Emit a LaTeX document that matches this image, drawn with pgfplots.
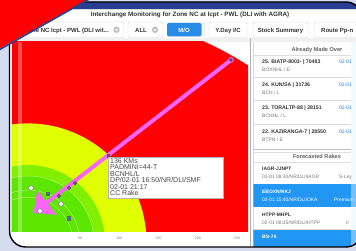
\documentclass[border=0pt]{standalone}
\usepackage{fontspec}
\setmainfont{Liberation Sans}
\usepackage{pgfplots}
\pgfplotsset{compat=1.18}
\usetikzlibrary{arrows.meta}
\definecolor{bgc}{RGB}{212,220,238}
\definecolor{navy}{RGB}{40,62,145}
\definecolor{zred}{RGB}{255,0,0}
\definecolor{zyel}{RGB}{224,255,0}
\definecolor{zgrn}{RGB}{92,230,0}
\definecolor{zgrn2}{RGB}{128,240,0}
\definecolor{arrowc}{RGB}{250,100,250}
\definecolor{mblue}{RGB}{33,150,243}
\definecolor{btnblue}{RGB}{40,140,230}
\definecolor{txt}{RGB}{51,51,51}
\definecolor{subc}{RGB}{120,120,120}
\definecolor{linkblue}{RGB}{40,120,220}
\definecolor{sqblue}{RGB}{25,125,195}
\newcommand\fs[1]{\fontsize{#1}{#1}\selectfont}
\newcommand\tl[3][]{\node[anchor=base west,inner sep=0pt,#1] at (#2) {#3};}
\newcommand\tc[3][]{\node[anchor=base,inner sep=0pt,#1] at (#2) {#3};}
\begin{document}
\begin{tikzpicture}
\useasboundingbox (0,0) rectangle (356pt,251pt);
\clip (0,0) rectangle (356pt,251pt);
\begin{scope}[x=1pt,y=-1pt,shift={(0pt,251pt)}]
\fill[bgc] (-5,-5) rectangle (362,256);
\begin{scope}
\clip[rounded corners=16pt] (9.5,2) rectangle (362,247);
\fill[white] (0,0) rectangle (362,251);
\fill[navy] (0,0) rectangle (362,9.5);
\fill[gray!30] (0,9.5) rectangle (362,10.3);
% title
\tc[font={\fs{6.3}\bfseries},text=txt]{190,16.3}{Interchange Monitoring for Zone NC at Icpt - PWL (DLI with AGRA)}
% toolbar
\draw[gray!35,fill=white,rounded corners=2pt] (15,22) rectangle (124,37.5);
\node[anchor=base east,inner sep=0pt,font={\fs{6}\bfseries},text=txt] at (109,32.1) {Zone NC Icpt - PWL (DLI wit...};
\fill[gray!50] (116.5,29.8) circle (3.2pt);
\draw[white,line width=0.6pt] (114.9,29.0)--(116.5,30.6)--(118.1,29.0);
\draw[gray!35,fill=white,rounded corners=2pt] (128,22) rectangle (163,37.5);
\tc[font={\fs{6}\bfseries},text=txt]{141,32.1}{ALL}
\fill[gray!50] (155,29.8) circle (3.2pt);
\draw[white,line width=0.6pt] (153.4,29.0)--(155,30.6)--(156.6,29.0);
\draw[gray!40,fill=white,rounded corners=1.5pt] (167,23) rectangle (204.5,36.5);
\fill[btnblue,rounded corners=1.5pt] (167,23) rectangle (201.5,36.5);
\tc[font={\fs{6}\bfseries},text=white]{184,32.1}{M/O}
\draw[gray!35,fill=white,rounded corners=2pt] (209,22) rectangle (247,37.5);
\tc[font={\fs{6}\bfseries},text=txt]{228,32.1}{Y.Day I/C}
\draw[gray!35,fill=white,rounded corners=2pt] (253,22) rectangle (308,37.5);
\tc[font={\fs{6}\bfseries},text=txt]{280.5,32.1}{Stock Summary}
\draw[gray!35,fill=white,rounded corners=2pt] (314,22) rectangle (372,37.5);
\tl[font={\fs{6}\bfseries},text=txt]{321,32.1}{Route Pp-n}
\fill[gray!12] (12,38) rectangle (362,42);
% right panel
\draw[gray!60,line width=0.8pt] (250.5,38) -- (250.5,247);
\draw[gray!30,line width=0.6pt] (253,42) -- (253,247);
\begin{scope}
\clip (253.3,42) rectangle (356,247);
\tc[font={\fs{5.6}\bfseries},text=gray!75!black]{317,52}{Already Made Over}
\draw[gray!25] (253,55.5) -- (351,55.5);
\tl[font={\fs{5.2}\bfseries},text=txt]{262,63.9}{25. BIATP-8003- | 70483}
\tl[font={\fs{5}},text=subc]{262,71.8}{BOXNHL / E}
\tl[font={\fs{5}},text=linkblue]{339,63.9}{02-01}
\draw[gray!30] (253,77) -- (351,77);
\tl[font={\fs{5.2}\bfseries},text=txt]{262,86.9}{24. KUN/SA | 31736}
\tl[font={\fs{5}},text=subc]{262,94.8}{BCN / L}
\tl[font={\fs{5}},text=linkblue]{339,86.9}{02-01}
\draw[gray!30] (253,100.5) -- (351,100.5);
\tl[font={\fs{5.2}\bfseries},text=txt]{262,109.9}{23. TORALTP-88 | 28151}
\tl[font={\fs{5}},text=subc]{262,117.8}{BCNHL / L}
\tl[font={\fs{5}},text=linkblue]{339,109.9}{02-01}
\draw[gray!30] (253,124.5) -- (351,124.5);
\tl[font={\fs{5.2}\bfseries},text=txt]{262,133.9}{22. KAZIRANGA-7 | 28550}
\tl[font={\fs{5}},text=subc]{262,141.8}{BTPN / E}
\tl[font={\fs{5}},text=linkblue]{339,133.9}{02-01}
\draw[gray!50,line width=1pt] (253,150) -- (351,150);
\draw[gray!25] (253,152.3) -- (351,152.3);
\tc[font={\fs{5.6}\bfseries},text=gray!75!black]{317,159}{Forecasted Rakes}
\draw[gray!25] (253,162.5) -- (351,162.5);
\tl[font={\fs{4.9}\bfseries},text=txt]{262,170.8}{IAGR-JJNPT}
\tl[font={\fs{4.9}},text=subc]{262,178.3}{02-01 08:30/NR/DLI/IAGR}
\tl[font={\fs{4.9}},text=subc]{339,178.3}{S-Ley}
\fill[mblue] (253,184) rectangle (356,207.5);
\tl[font={\fs{4.9}\bfseries},text=white]{262,193.2}{EBOXN/NKJ}
\tl[font={\fs{4.9}},text=white]{262,201.3}{02-01 15:40/NR/DLI/OKA}
\tl[font={\fs{4.9}},text=white]{334,201.3}{Premium}
\tl[font={\fs{4.9}\bfseries},text=txt]{262,216.7}{HTPP-MHPL}
\tl[font={\fs{4.9}},text=subc]{262,224.3}{02-01 08:25/NR/DLI/HTPP}
\tl[font={\fs{4.9}},text=subc]{346,224.3}{Ir}
\draw[gray!30] (253,229.5) -- (351,229.5);
\fill[mblue] (253,230) rectangle (356,247);
\tl[font={\fs{4.9}\bfseries},text=white]{262,238.7}{BN-74}
\end{scope}
\fill[cyan!12!white,opacity=0.45] (351,42) rectangle (362,247);
\end{scope}
\end{scope}
% chart
\begin{axis}[at={(12pt,19pt)},anchor=south west,scale only axis,
  width=236pt,height=190pt,
  xmin=-36.9,xmax=263.7,ymin=-19.1,ymax=222.9,
  axis line style={draw=none},
  xtick={50,100,150,200,250},ytick=\empty,
  major tick length=0pt,tick style={draw=none},
  xticklabel style={font=\fs{3.6},text=gray,inner sep=0pt,anchor=north,yshift=-4.5pt},
  /pgf/number format/assume math mode=true,
  clip=true]
\fill[zred] (axis cs:-16.6,-31.8) ellipse [x radius=420, y radius=302];
\fill[zyel] (axis cs:-16.6,-31.8) circle [radius=151];
\fill[zgrn2] (axis cs:-16.6,-31.8) circle [radius=98];
\fill[zgrn] (axis cs:-16.6,-31.8) circle [radius=84];
\draw[white,opacity=0.45,line width=0.5pt] (axis cs:-16.6,-31.8) circle [radius=57];
\draw[white,opacity=0.45,line width=0.5pt] (axis cs:-16.6,-31.8) circle [radius=66];
\draw[white,opacity=0.45,line width=0.5pt] (axis cs:-16.6,-31.8) circle [radius=84];
\addplot[draw=arrowc,line width=4pt,-{Triangle[length=17pt,width=30pt]}] coordinates {(242,200) (-9.6,5.1)};
\addplot[only marks,mark=*,mark size=2.4pt,mark options={fill=white,draw=gray,line width=0.6pt}] coordinates {(-12.7,36.9) (-1.3,7.6) (25.5,16.6)};
\addplot[only marks,mark=square*,mark size=1.7pt,mark options={fill=sqblue,draw=black!60,line width=0.4pt}] coordinates {(8.9,29.3) (35.7,-1.3)};
\addplot[only marks,mark=*,mark size=1.8pt,mark options={fill=black!60,draw=arrowc!50!black,line width=0.4pt}] coordinates {(22.9,26.8) (35.7,36.9) (43.3,43.3)};
\addplot[only marks,mark=square*,mark size=1.3pt,mark options={fill=black!65,draw=black!65}] coordinates {(85.4,77.7)};
\addplot[only marks,mark=*,mark size=2.3pt,mark options={fill=black!70,draw=arrowc,line width=1pt}] coordinates {(242,200)};
\end{axis}
\begin{scope}[x=1pt,y=-1pt,shift={(0pt,251pt)}]
\fill[white,opacity=0.3] (18,42) rectangle (22,232);
\draw[gray!60,fill=white,line width=0.5pt] (108,157) rectangle (223,198);
\tl[font={\fs{7}},text=black!72]{110,163.2}{136 KMs}
\tl[font={\fs{7}},text=black!72]{110,169.7}{PADMINI=44-T}
\tl[font={\fs{7}},text=black!72]{110,176.2}{BCNHL/L}
\tl[font={\fs{7}},text=black!72]{110,182.7}{DP/02-01 16:50/NR/DLI/SMF}
\tl[font={\fs{7}},text=black!72]{110,189.2}{02-01 21:17}
\tl[font={\fs{7}},text=black!72]{110,195.7}{CC Rake}
\draw[black,line width=1.4pt,rounded corners=16pt] (9.5,2) rectangle (362,247);
\fill[zred] (-2,-2) -- (90,-2) -- (-2,49.5) -- cycle;
\draw[navy,line width=1.6pt] (91,-2) -- (-2,50.5);
\end{scope}
\end{tikzpicture}
\end{document}
